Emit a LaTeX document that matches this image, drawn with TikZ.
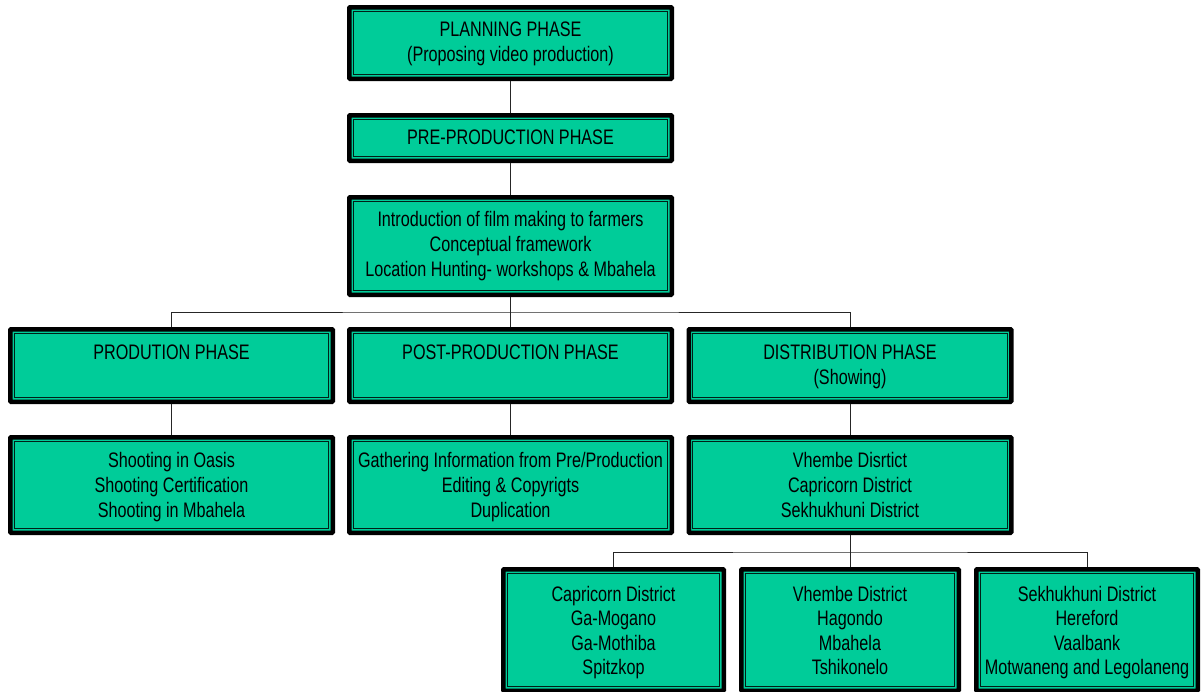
\documentclass[tikz,border=0pt]{standalone}
\usepackage{fontspec}
\setmainfont{Liberation Sans}[FakeStretch=0.77]
\definecolor{boxfill}{HTML}{00CC99}
\tikzset{
  box/.style={draw=black, fill=boxfill, line width=4.5pt, inner sep=0pt, rounded corners=0.8pt,
    path picture={\draw[line width=0.9pt, black!85!boxfill, sharp corners]
      ([shift={(4pt,4pt)}]path picture bounding box.south west) rectangle
      ([shift={(-4pt,-4pt)}]path picture bounding box.north east);}},
  txt/.style={inner sep=0pt, align=center, anchor=north, font=\fontsize{21}{25}\selectfont},
  txtb/.style={txt, font=\fontsize{21}{24.5}\selectfont},
  link/.style={draw=black!85, line width=0.9pt}
}
\begin{document}
\begin{tikzpicture}[x=1pt,y=-1pt]
\useasboundingbox (0,0) rectangle (1204,691);
% boxes
\node[box, minimum width=322.5pt, minimum height=71.5pt] (plan) at (510.5,43) {};
\node[box, minimum width=322.5pt, minimum height=45.5pt] (pre) at (510.5,138) {};
\node[box, minimum width=322.5pt, minimum height=97.5pt] (intro) at (510.5,246) {};
\node[box, minimum width=322.5pt, minimum height=72.5pt] (prod) at (171.5,365.5) {};
\node[box, minimum width=322.5pt, minimum height=72.5pt] (post) at (510.5,365.5) {};
\node[box, minimum width=322.5pt, minimum height=72.5pt] (dist) at (850,365.5) {};
\node[box, minimum width=322.5pt, minimum height=95.5pt] (shoot) at (171.5,485) {};
\node[box, minimum width=322.5pt, minimum height=95.5pt] (gath) at (510.5,485) {};
\node[box, minimum width=322.5pt, minimum height=95.5pt] (vhem) at (850,485) {};
\node[box, minimum width=220.5pt, minimum height=121.5pt] (cap) at (613.5,630) {};
\node[box, minimum width=217.5pt, minimum height=121.5pt] (vh2) at (850,630) {};
\node[box, minimum width=221.5pt, minimum height=121.5pt] (sek) at (1087,630) {};
% texts
\node[txt] (plant) at (510.5,22) {PLANNING PHASE\\(Proposing video production)};
\node[txt] (pret) at (510.5,130) {PRE-PRODUCTION PHASE};
\node[txt] (introt) at (510.5,211.5) {Introduction of film making to farmers\\Conceptual framework\\Location Hunting- workshops \& Mbahela};
\node[txt] (prodt) at (171.5,345) {PRODUTION PHASE};
\node[txt] (postt) at (510.5,345) {POST-PRODUCTION PHASE};
\node[txt] (distt) at (850,345) {DISTRIBUTION PHASE\\(Showing)};
\node[txt] (shoott) at (171.5,452) {Shooting in Oasis\\Shooting Certification\\Shooting in Mbahela};
\node[txt] (gatht) at (510.5,452) {Gathering Information from Pre/Production\\Editing \& Copyrigts\\Duplication};
\node[txt] (vhemt) at (850,452) {Vhembe Disrtict\\Capricorn District\\Sekhukhuni District};
\node[txtb] (capt) at (613.5,586) {Capricorn District\\Ga-Mogano\\Ga-Mothiba\\Spitzkop};
\node[txtb] (vh2t) at (850,586) {Vhembe District\\Hagondo\\Mbahela\\Tshikonelo};
\node[txtb] (sekt) at (1087,586) {Sekhukhuni District\\Hereford\\Vaalbank\\Motwaneng and Legolaneng};
% connectors
\coordinate (bus1) at (510.5,312);
\coordinate (bus2) at (850,552);
\draw[link] (plan.south) -- (pre.north);
\draw[link] (pre.south) -- (intro.north);
\draw[link] (intro.south) -- (post.north);
\draw[link] (prod.north) |- (bus1) -| (dist.north);
\draw[link] (prod.south) -- (shoot.north);
\draw[link] (post.south) -- (gath.north);
\draw[link] (dist.south) -- (vhem.north);
\draw[link] (vhem.south) -- (vh2.north);
\draw[link] (cap.north) |- (bus2) -| (sek.north);
\end{tikzpicture}
\end{document}
